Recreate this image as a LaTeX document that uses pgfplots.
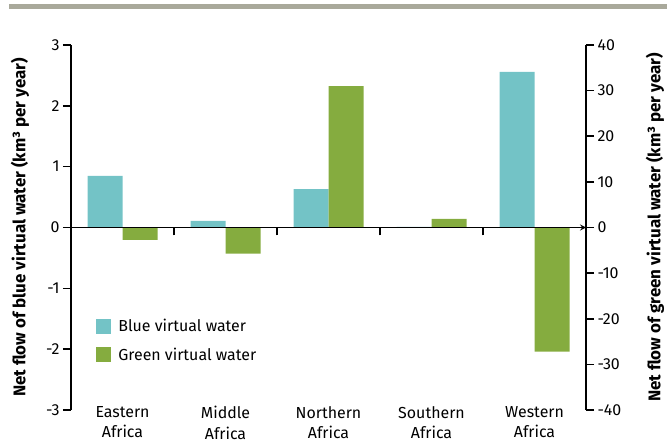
\documentclass[border=0pt]{standalone}
\usepackage{pgfplots}
\pgfplotsset{compat=1.18}
\usepackage{fontspec}
\setmainfont{Fira Sans}
\definecolor{blueC}{HTML}{73C3C6}
\definecolor{greenC}{HTML}{85AC3F}
\definecolor{barG}{HTML}{A9A99B}
\begin{document}
\begin{tikzpicture}[x=1bp,y=1bp]
\path[use as bounding box] (0,0) rectangle (667,443);
\fill[barG] (9,433.5) rectangle (667,439);
\pgfplotsset{
 common/.style={width=515bp,height=365bp,scale only axis, at={(71bp,33bp)}, anchor=south west,
  xmin=-0.5,xmax=4.5, axis line style={-,line width=1.6bp},
  every tick/.style={black,line width=1.6bp}, major tick length=8bp, tick align=outside,
  /pgf/number format/assume math mode=true,
  tick label style={font=\fontsize{16}{18}\selectfont},
  label style={font=\bfseries\fontsize{17}{18}\selectfont},
  ybar, bar width=35bp}
}
\begin{axis}[common, ymin=-3,ymax=3, ytick={-3,...,3},
  axis y line*=left, axis x line*=bottom, x axis line style={draw=none},
  xtick={0,...,4}, major x tick style={draw=none},
  xticklabels={Eastern\\Africa,Middle\\Africa,Northern\\Africa,Southern\\Africa,Western\\Africa},
  xticklabel style={align=center, font=\fontsize{16}{20.5}\selectfont, yshift=15bp},
  ylabel={Net flow of blue virtual water (km³ per year)},
  ylabel style={at={(axis description cs:-0.099,0.5)}, anchor=center}]
\addplot[fill=blueC, draw=none, bar shift=-17.5bp] coordinates {(0,0.85)(1,0.11)(2,0.63)(3,0.01)(4,2.56)};
\end{axis}
\begin{axis}[common, ymin=-40,ymax=40, ytick={-40,-30,...,40}, axis on top,
  axis y line*=right, axis x line=middle,
  xtick={0.5,1.5,2.5,3.5}, xticklabels={}, xtick align=outside,
  ylabel={Net flow of green virtual water (km³ per year)},
  ylabel style={at={(axis description cs:1.134,0.5)}, anchor=center},
  legend style={at={(axis description cs:0.048,0.256)}, anchor=north west, draw=none, fill=none,
   font=\fontsize{16}{18}\selectfont, row sep=11bp, inner sep=0pt,
   /tikz/every odd column/.append style={column sep=6bp}},
  legend cell align=left]
\addlegendimage{legend image code/.code={\fill[blueC] (0bp,-7bp) rectangle (14bp,7bp);}}
\addlegendentry{Blue virtual water}
\addplot[fill=greenC, draw=none, bar shift=17.5bp, forget plot] coordinates {(0,-2.7)(1,-5.7)(2,31.0)(3,1.9)(4,-27.2)};
\addlegendimage{legend image code/.code={\fill[greenC] (0bp,-7bp) rectangle (14bp,7bp);}}
\addlegendentry{Green virtual water}
\end{axis}
\end{tikzpicture}
\end{document}
